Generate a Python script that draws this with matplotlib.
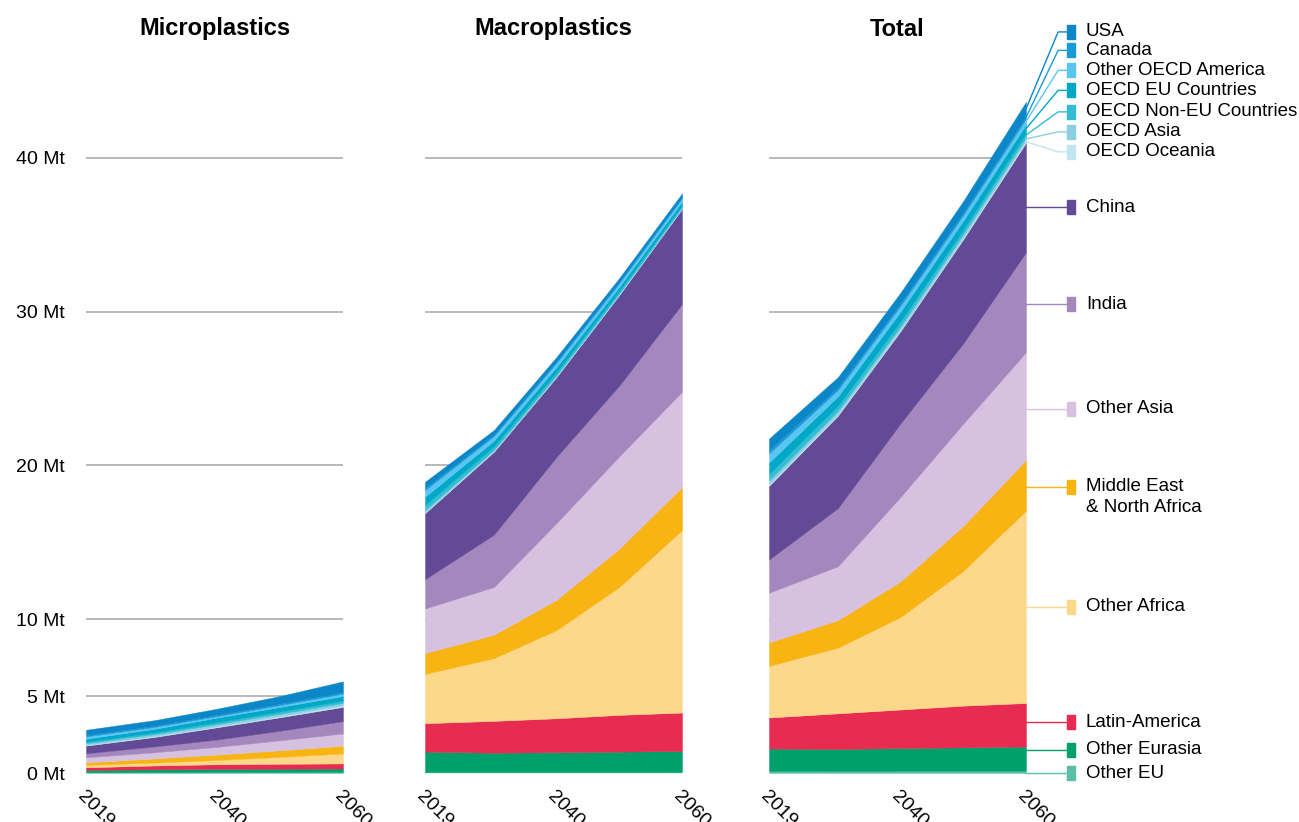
import numpy as np
import matplotlib
matplotlib.use('Agg')
import matplotlib.pyplot as plt
import matplotlib.transforms as mtransforms

plt.rcParams['font.family'] = ['Liberation Sans', 'DejaVu Sans']

years = [2019, 2030, 2040, 2050, 2060]
xtick_years = [2019, 2040, 2060]
ytick_values = [0, 5, 10, 20, 30, 40]
ytick_labels = ['0 Mt', '5 Mt', '10 Mt', '20 Mt', '30 Mt', '40 Mt']
panel_titles = ['Microplastics', 'Macroplastics', 'Total']

# regions, bottom of the stack first
regions = ['Other EU', 'Other Eurasia', 'Latin-America', 'Other Africa',
           'Middle East\n& North Africa', 'Other Asia', 'India', 'China',
           'OECD Oceania', 'OECD Asia', 'OECD Non-EU Countries', 'OECD EU Countries',
           'Other OECD America', 'Canada', 'USA']
colors = ['#5bbfa5', '#00a06a', '#e72b51', '#fdd78a',
          '#f8b413', '#d6c1e0', '#a487bd', '#634a97',
          '#c3e5ef', '#8ad0e0', '#33bcd4', '#00a8c8',
          '#5bc5f2', '#1a9ad6', '#0b86c8']

# Mt leaked, one row per region (same order as regions)
micro = [
    [0.05, 0.06, 0.07, 0.07, 0.07],   # Other EU
    [0.15, 0.18, 0.20, 0.21, 0.22],   # Other Eurasia
    [0.17, 0.25, 0.30, 0.32, 0.33],   # Latin-America
    [0.15, 0.19, 0.28, 0.45, 0.65],   # Other Africa
    [0.17, 0.27, 0.35, 0.43, 0.50],   # MENA
    [0.33, 0.40, 0.50, 0.65, 0.80],   # Other Asia
    [0.26, 0.38, 0.48, 0.62, 0.80],   # India
    [0.50, 0.62, 0.80, 0.88, 0.93],   # China
    [0.05, 0.06, 0.07, 0.08, 0.10],   # OECD Oceania
    [0.10, 0.12, 0.14, 0.15, 0.16],   # OECD Asia
    [0.10, 0.11, 0.12, 0.14, 0.15],   # OECD Non-EU
    [0.20, 0.24, 0.30, 0.30, 0.30],   # OECD EU
    [0.15, 0.12, 0.10, 0.12, 0.15],   # Other OECD America
    [0.08, 0.08, 0.08, 0.09, 0.10],   # Canada
    [0.35, 0.36, 0.40, 0.50, 0.70],   # USA
]
macro = [
    [0.08, 0.08, 0.08, 0.08, 0.08],   # Other EU
    [1.31, 1.24, 1.27, 1.31, 1.35],   # Other Eurasia
    [1.85, 2.07, 2.21, 2.39, 2.50],   # Latin-America
    [3.21, 4.08, 5.74, 8.32, 11.87],  # Other Africa
    [1.35, 1.53, 1.97, 2.50, 2.80],   # MENA
    [2.90, 3.10, 5.00, 6.00, 6.20],   # Other Asia
    [1.90, 3.40, 4.30, 4.60, 5.70],   # India
    [4.30, 5.40, 5.20, 5.90, 6.20],   # China
    [0.05, 0.04, 0.03, 0.03, 0.03],   # OECD Oceania
    [0.15, 0.09, 0.08, 0.07, 0.06],   # OECD Asia
    [0.33, 0.22, 0.20, 0.15, 0.13],   # OECD Non-EU
    [0.54, 0.37, 0.34, 0.28, 0.25],   # OECD EU
    [0.43, 0.30, 0.28, 0.25, 0.23],   # Other OECD America
    [0.14, 0.09, 0.08, 0.07, 0.06],   # Canada
    [0.40, 0.30, 0.29, 0.25, 0.24],   # USA
]

# where each legend entry sits (in Mt, on the Total scale)
label_pos = [0.0, 1.5, 3.3, 10.8, 18.6, 23.7, 30.5, 36.8,
             40.4, 41.7, 43.0, 44.4, 45.7, 47.0, 48.2]

total = (np.array(micro) + np.array(macro)).tolist()
panels = [micro, macro, total]

fig = plt.figure(figsize=(12.99, 8.22), dpi=100)

# axes positions in figure pixels (left, width)
lefts = [86, 425, 769]
width = 257
bottom = 49 / 822
height = 738 / 822
ymax = 48

axes = []
for i, data in enumerate(panels):
    ax = fig.add_axes([lefts[i] / 1299, bottom, width / 1299, height])
    for g in [5, 10, 20, 30, 40]:
        ax.axhline(g, color='#a6a6a6', lw=1.1, zorder=0)
    ax.stackplot(years, data, colors=colors, edgecolor='face', lw=0.3, zorder=2)
    ax.set_xlim(years[0], years[-1])
    ax.set_ylim(0, ymax)
    for s in ax.spines.values():
        s.set_visible(False)
    ax.set_xticks(xtick_years)
    ax.set_xticklabels([str(y) for y in xtick_years], rotation=-45, ha='left',
                       rotation_mode='anchor', fontsize=14)
    ax.tick_params(axis='x', length=0, pad=11)
    if i == 0:
        ax.set_yticks(ytick_values)
        ax.set_yticklabels(ytick_labels, fontsize=14)
        ax.tick_params(axis='y', length=0, pad=15)
    else:
        ax.set_yticks([])
    # panel title
    fig.text((lefts[i] + width / 2) / 1299, 1 - 29 / 822, panel_titles[i],
             ha='center', va='center', fontsize=17, fontweight='bold')
    axes.append(ax)

# leader lines + legend next to the Total panel
ax = axes[2]
trans = mtransforms.blended_transform_factory(ax.transAxes, ax.transData)
last = np.array([row[-1] for row in total])
tops = np.cumsum(last)
bots = tops - last
mids = tops - last / 2

box = [(-0.55, -1), (0.55, -1), (0.55, 1), (-0.55, 1), (-0.55, -1)]
for name, c, b, t, m, ly in zip(regions, colors, bots, tops, mids, label_pos):
    start = ly if b - 0.05 <= ly <= t + 0.05 else m
    ax.plot([1.0, 1.125, 1.165], [start, ly, ly], color=c, lw=1, transform=trans,
            clip_on=False, zorder=3)
    ax.plot([1.175], [ly], marker=box, ms=9.5, color=c, linestyle='none',
            transform=trans, clip_on=False)
    if '\n' in name:
        ax.annotate(name, xy=(1.233, ly), xycoords=trans, xytext=(0, 6.5),
                    textcoords='offset points', va='top', ha='left', fontsize=13.5,
                    linespacing=1.3, annotation_clip=False)
    else:
        ax.text(1.233, ly, name, transform=trans, va='center', ha='left',
                fontsize=13.5, clip_on=False)

fig.savefig('out.png', dpi=100)
